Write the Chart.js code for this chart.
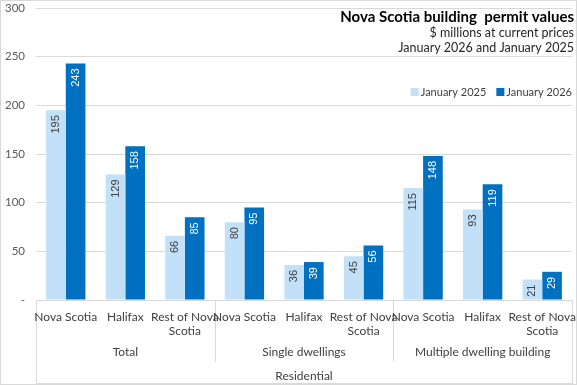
<!DOCTYPE html>
<html>
<head>
<meta charset="utf-8">
<script src="https://cdn.jsdelivr.net/npm/chart.js@4"></script>
<style>
  html, body { margin: 0; padding: 0; background: #fff; }
  #wrap { width: 577px; height: 385px; }
</style>
</head>
<body>
<div id="wrap"><canvas id="permitChart" width="577" height="385"></canvas></div>
<script>
// Chart data
const categories = [
    'Nova Scotia', 'Halifax', ['Rest of Nova', 'Scotia'],
    'Nova Scotia', 'Halifax', ['Rest of Nova', 'Scotia'],
    'Nova Scotia', 'Halifax', ['Rest of Nova', 'Scotia']
];
const groups = ['Total', 'Single dwellings', 'Multiple dwelling building'];
const topGroup = 'Residential';
const jan2025 = [195, 129, 66, 80, 36, 45, 115, 93, 21];
const jan2026 = [243, 158, 85, 95, 39, 56, 148, 119, 29];
const yTicks = [0, 50, 100, 150, 200, 250, 300];

const narrow = 'Lato, "DejaVu Sans Condensed", sans-serif';
const lineColor = '#d9d9d9';
const textColor = '#404040';

// Background, title, legend, category labels and box lines
const decorPlugin = {
    id: 'decor',
    beforeDraw(chart) {
        const ctx = chart.ctx;
        ctx.save();
        ctx.fillStyle = '#ffffff';
        ctx.fillRect(0, 0, chart.width, chart.height);
        ctx.restore();
    },
    afterDraw(chart) {
        const ctx = chart.ctx;
        const area = chart.chartArea;
        const x = chart.scales.x;
        const bottom = chart.height - 1.5;
        ctx.save();

        // outer border
        ctx.strokeStyle = lineColor;
        ctx.lineWidth = 1;
        ctx.strokeRect(0.5, 0.5, chart.width - 1, chart.height - 1);

        // category box lines
        ctx.beginPath();
        ctx.moveTo(Math.round(area.left) + 0.5, area.bottom);
        ctx.lineTo(Math.round(area.left) + 0.5, bottom);
        ctx.lineTo(Math.round(area.right) + 0.5, bottom);
        ctx.lineTo(Math.round(area.right) + 0.5, area.bottom);
        for (let g = 1; g < groups.length; g++) {
            const bx = Math.round((x.getPixelForValue(g * 3 - 1) + x.getPixelForValue(g * 3)) / 2) + 0.5;
            ctx.moveTo(bx, area.bottom);
            ctx.lineTo(bx, 362);
        }
        ctx.stroke();

        // category labels
        ctx.fillStyle = textColor;
        ctx.font = '12px ' + narrow;
        ctx.textAlign = 'center';
        ctx.textBaseline = 'middle';
        categories.forEach((c, i) => {
            const lines = Array.isArray(c) ? c : [c];
            lines.forEach((t, li) => {
                ctx.fillText(t, x.getPixelForValue(i), 317 + li * 14);
            });
        });

        // group labels
        groups.forEach((g, i) => {
            const cx = (x.getPixelForValue(i * 3) + x.getPixelForValue(i * 3 + 2)) / 2;
            ctx.fillText(g, cx, 352);
        });
        ctx.fillText(topGroup, (area.left + area.right) / 2, 376);

        // title block
        ctx.textAlign = 'right';
        ctx.textBaseline = 'alphabetic';
        ctx.fillStyle = '#000000';
        ctx.font = 'bold 15px ' + narrow;
        ctx.fillText('Nova Scotia building  permit values', 574, 22);
        ctx.font = '12.5px ' + narrow;
        ctx.fillStyle = '#262626';
        ctx.fillText('$ millions at current prices', 574, 37);
        ctx.fillText('January 2026 and January 2025', 574, 52);

        // legend
        ctx.font = '11px ' + narrow;
        ctx.textBaseline = 'middle';
        ctx.textAlign = 'left';
        const ly = 92;
        let lx = area.right;
        const items = chart.data.datasets.slice().reverse();
        items.forEach(ds => {
            const w = ctx.measureText(ds.label).width;
            lx -= w;
            ctx.fillStyle = textColor;
            ctx.fillText(ds.label, lx, ly);
            lx -= 10;
            ctx.fillStyle = ds.backgroundColor;
            ctx.fillRect(lx, ly - 4, 8, 8);
            lx -= 10;
        });

        ctx.restore();
    }
};

// Rotated value labels inside the bar ends
const valueLabels = {
    id: 'valueLabels',
    afterDatasetsDraw(chart) {
        const ctx = chart.ctx;
        ctx.save();
        ctx.font = '11px "Liberation Sans", Arial, sans-serif';
        ctx.textAlign = 'right';
        ctx.textBaseline = 'middle';
        chart.data.datasets.forEach((ds, di) => {
            const meta = chart.getDatasetMeta(di);
            meta.data.forEach((bar, i) => {
                ctx.save();
                ctx.translate(bar.x, bar.y + 5);
                ctx.rotate(-Math.PI / 2);
                ctx.fillStyle = ds.labelColor;
                ctx.fillText(String(ds.data[i]), 0, 0);
                ctx.restore();
            });
        });
        ctx.restore();
    }
};

new Chart(document.getElementById('permitChart'), {
    type: 'bar',
    data: {
        labels: categories,
        datasets: [
            {
                label: 'January 2025',
                data: jan2025,
                backgroundColor: '#c2e0f7',
                labelColor: '#404040',
                categoryPercentage: 0.66,
                barPercentage: 1
            },
            {
                label: 'January 2026',
                data: jan2026,
                backgroundColor: '#0070c0',
                labelColor: '#ffffff',
                categoryPercentage: 0.66,
                barPercentage: 1
            }
        ]
    },
    options: {
        responsive: false,
        animation: false,
        layout: { padding: { top: 8, right: 5, left: 0, bottom: 0 } },
        plugins: {
            legend: { display: false },
            tooltip: { enabled: false }
        },
        scales: {
            y: {
                min: 0,
                max: 300,
                afterBuildTicks: axis => {
                    axis.ticks = yTicks.map(v => ({ value: v }));
                },
                afterFit: axis => {
                    axis.width = 36;
                    axis.paddingTop = 0;
                    axis.paddingBottom = 0;
                },
                ticks: {
                    callback: v => (v === 0 ? '-' : v),
                    color: '#595959',
                    font: { family: narrow, size: 11.5 },
                    padding: 11
                },
                grid: { color: lineColor, drawTicks: false },
                border: { display: false }
            },
            x: {
                afterFit: axis => {
                    axis.height = 85;
                    axis.paddingLeft = 0;
                    axis.paddingRight = 0;
                },
                ticks: { display: false },
                grid: { display: false },
                border: { display: true, color: lineColor }
            }
        }
    },
    plugins: [decorPlugin, valueLabels]
});
</script>
</body>
</html>
